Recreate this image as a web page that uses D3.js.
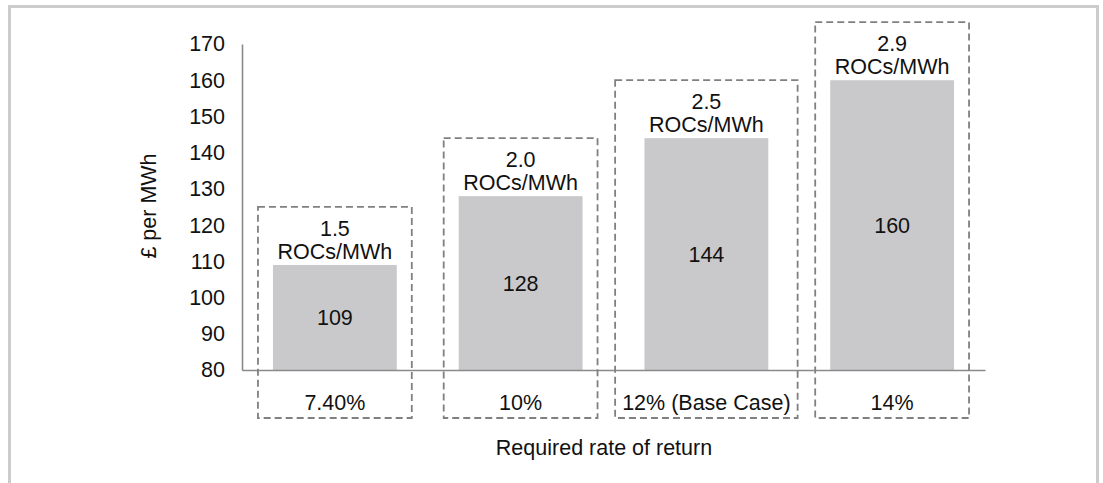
<!DOCTYPE html>
<html>
<head>
<meta charset="utf-8">
<script src="https://cdn.jsdelivr.net/npm/d3@7"></script>
<style>
  body { margin: 0; background: #fff; }
  text { font-family: "Liberation Sans", Arial, sans-serif; fill: #111; }
</style>
</head>
<body>
<div class="chart"></div>
<script>
// chart data
const categories = ["7.40%", "10%", "12% (Base Case)", "14%"];
const values = [109, 128, 144, 160];
const rocRates = ["1.5", "2.0", "2.5", "2.9"];
const yTicks = [80, 90, 100, 110, 120, 130, 140, 150, 160, 170];

const svgWidth = 1103;
const svgHeight = 483;
const fontSize = 21.5;

const svg = d3.select(".chart")
              .append("svg")
              .attr("width", svgWidth)
              .attr("height", svgHeight);

// light grey frame round the chart
svg.append("rect")
   .attr("x", 9.5)
   .attr("y", 6.5)
   .attr("width", 1088)
   .attr("height", 490)
   .attr("fill", "none")
   .attr("stroke", "#cccccc")
   .attr("stroke-width", 3);

const xScale = d3.scaleBand()
                 .domain(categories)
                 .range([242, 985])
                 .paddingInner(1 / 3)
                 .paddingOuter(1 / 6);

const yScale = d3.scaleLinear()
                 .domain([80, 170])
                 .range([370, 44]);

// bars
svg.selectAll("rect.bar")
   .data(values)
   .enter()
   .append("rect")
   .attr("class", "bar")
   .attr("x", (d, i) => xScale(categories[i]))
   .attr("y", d => yScale(d))
   .attr("width", xScale.bandwidth())
   .attr("height", d => yScale(80) - yScale(d))
   .attr("fill", "#c9c9cb");

// axes
const yAxis = d3.axisLeft(yScale)
                .tickValues(yTicks)
                .tickSize(0)
                .tickPadding(17);

const yG = svg.append("g")
              .attr("transform", "translate(242,0)")
              .call(yAxis);

const xAxis = d3.axisBottom(xScale)
                .tickSize(0)
                .tickFormat("");

const xG = svg.append("g")
              .attr("transform", "translate(0,370)")
              .call(xAxis);

[yG, xG].forEach(g => {
  g.select(".domain").attr("stroke", "#8a8a8c").attr("stroke-width", 1.6);
  g.selectAll("text")
   .attr("font-size", fontSize)
   .attr("font-family", "Liberation Sans, Arial, sans-serif")
   .attr("fill", "#111");
});

// category labels under the axis
const catLabels = svg.selectAll("text.cat")
   .data(categories)
   .enter()
   .append("text")
   .attr("class", "cat")
   .attr("x", d => xScale(d) + xScale.bandwidth() / 2)
   .attr("y", 410)
   .attr("text-anchor", "middle")
   .attr("font-size", fontSize)
   .text(d => d);

// values inside the bars
svg.selectAll("text.val")
   .data(values)
   .enter()
   .append("text")
   .attr("class", "val")
   .attr("x", (d, i) => xScale(categories[i]) + xScale.bandwidth() / 2)
   .attr("y", d => (yScale(d) + yScale(80)) / 2 + 8)
   .attr("text-anchor", "middle")
   .attr("font-size", fontSize)
   .text(d => d);

// ROC labels above the bars
const rocG = svg.selectAll("g.roc")
   .data(values)
   .enter()
   .append("g")
   .attr("class", "roc")
   .attr("transform", (d, i) => "translate(" + (xScale(categories[i]) + xScale.bandwidth() / 2) + "," + yScale(d) + ")");

rocG.append("text")
    .attr("y", -29)
    .attr("text-anchor", "middle")
    .attr("font-size", fontSize)
    .text((d, i) => rocRates[i]);

rocG.append("text")
    .attr("y", -6)
    .attr("text-anchor", "middle")
    .attr("font-size", fontSize)
    .text("ROCs/MWh");

// dashed boxes round each bar, its ROC label and its category label
const catWidths = catLabels.nodes().map(n => n.getComputedTextLength());

svg.selectAll("rect.box")
   .data(values)
   .enter()
   .append("rect")
   .attr("class", "box")
   .each(function (d, i) {
     const w = Math.max(xScale.bandwidth() + 30, catWidths[i] + 14);
     const cx = xScale(categories[i]) + xScale.bandwidth() / 2;
     const top = yScale(d) - 58;
     d3.select(this)
       .attr("x", cx - w / 2)
       .attr("y", top)
       .attr("width", w)
       .attr("height", 418 - top);
   })
   .attr("fill", "none")
   .attr("stroke", "#808082")
   .attr("stroke-width", 1.8)
   .attr("stroke-dasharray", "7,4");

// axis titles
svg.append("text")
   .attr("x", 604)
   .attr("y", 455)
   .attr("text-anchor", "middle")
   .attr("font-size", fontSize)
   .text("Required rate of return");

svg.append("text")
   .attr("transform", "translate(156,206) rotate(-90)")
   .attr("text-anchor", "middle")
   .attr("font-size", fontSize)
   .text("£ per MWh");
</script>
</body>
</html>
